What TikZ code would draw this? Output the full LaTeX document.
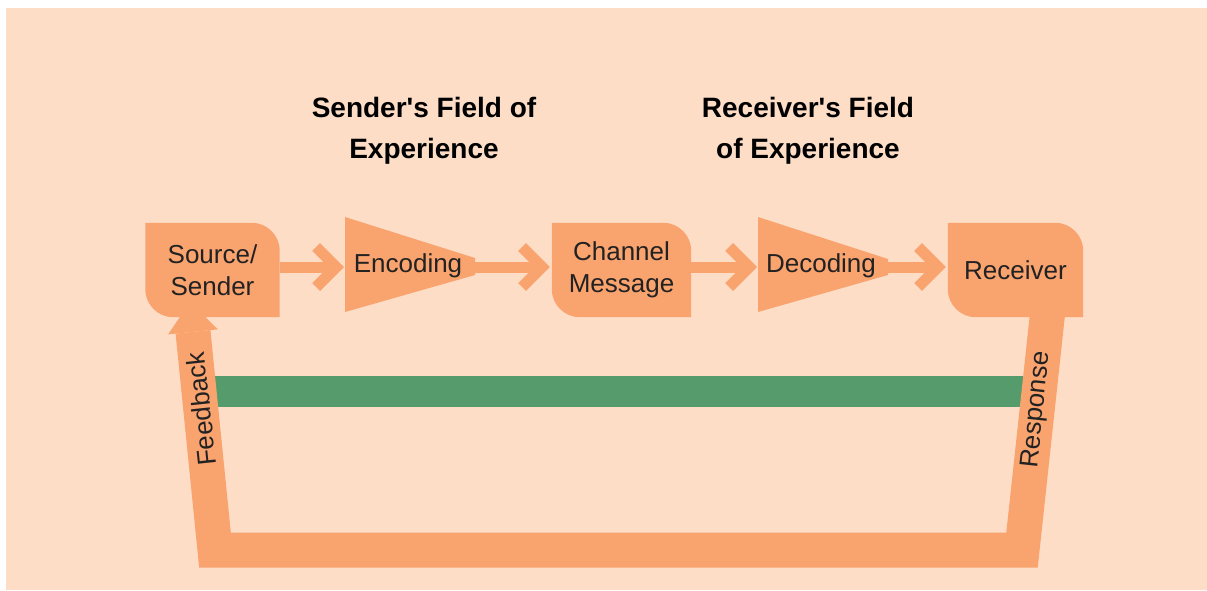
\documentclass[tikz,border=0pt]{standalone}
\usepackage{fontspec}
\setmainfont{Liberation Sans}
\usetikzlibrary{arrows.meta}
\definecolor{peach}{RGB}{253,221,198}
\definecolor{salmon}{RGB}{249,163,111}
\definecolor{sage}{RGB}{85,155,108}
\definecolor{ink}{RGB}{34,34,34}
\pgfdeclarelayer{bg}
\pgfsetlayers{bg,main}
\newcommand\apos{\XeTeXglyph\XeTeXcharglyph"27 }
% box with two round corners (top right, bottom left)
\newcommand\leafbox[1]{\fill[salmon] (#1.north west) -- ([xshift=-28pt]#1.north east)
  arc[start angle=90,end angle=0,radius=28pt] -- (#1.south east) -- ([xshift=28pt]#1.south west)
  arc[start angle=270,end angle=180,radius=28pt] -- cycle;}
\begin{document}
\begin{tikzpicture}[x=1pt,y=-1pt,
	box/.style={minimum height=94pt,inner sep=0pt,align=center,font=\fontsize{26}{32}\selectfont,text=ink},
	lbl/.style={font=\fontsize{26}{30}\selectfont,text=ink,inner sep=0pt},
	head/.style={font=\bfseries\fontsize{28}{41}\selectfont,align=center,text=black},
	flow/.style={salmon,line width=11pt,-{Straight Barb[length=20pt,width=40pt]}},
	backline/.style={salmon,line width=35pt,line join=miter,-{Triangle[length=30pt,width=50pt,line width=0pt]}}]
	\useasboundingbox (0,0) rectangle (1207,590);
	\node[head] (sfield) at (424,131) {Sender\apos s Field of\\Experience};
	\node[head] (rfield) at (808,131) {Receiver\apos s Field\\of Experience};
	\node[box,minimum width=134pt] (src) at (212.5,270) {Source/\\Sender};
	\node[box,minimum width=139pt] (chan) at (621.5,270) {Channel\\Message};
	\node[box,minimum width=135pt] (rcv) at (1015.5,270) {Receiver};
	\node[lbl] (enc) at (408,266) {Encoding};
	\node[lbl] (dec) at (821,266) {Decoding};
	\node[lbl,rotate=96] (fb) at (201,409) {Feedback};
	\node[lbl,rotate=84] (resp) at (1037,410) {Response};
	\coordinate (encin) at (345,267); \coordinate (encout) at (475,267);
	\coordinate (decin) at (758,267); \coordinate (decout) at (888,267);
	\coordinate (rstart) at (1049,300); \coordinate (ftip) at (190,302);
	\begin{pgfonlayer}{bg}
		\fill[peach] (6,8) rectangle (1207,590);
		\fill[sage] (205,376) rectangle (1030,407);
		\draw[backline] (rstart) -- (1022,550) -- (215,550) -- (ftip);
		\leafbox{src} \leafbox{chan} \leafbox{rcv}
		\fill[salmon] (encin|-0,217) -- (encout|-0,258) -- (encout|-0,275) -- (encin|-0,312) -- cycle;
		\fill[salmon] (decin|-0,217) -- (decout|-0,259) -- (decout|-0,275) -- (decin|-0,312) -- cycle;
		\draw[flow] (src.east|-encin) -- ([xshift=-1pt]encin);
		\draw[flow] (encout) -- ([xshift=-2pt]chan.west|-encout);
		\draw[flow] (chan.east|-decin) -- ([xshift=-1pt]decin);
		\draw[flow] (decout) -- ([xshift=-2pt]rcv.west|-decout);
	\end{pgfonlayer}
\end{tikzpicture}
\end{document}
